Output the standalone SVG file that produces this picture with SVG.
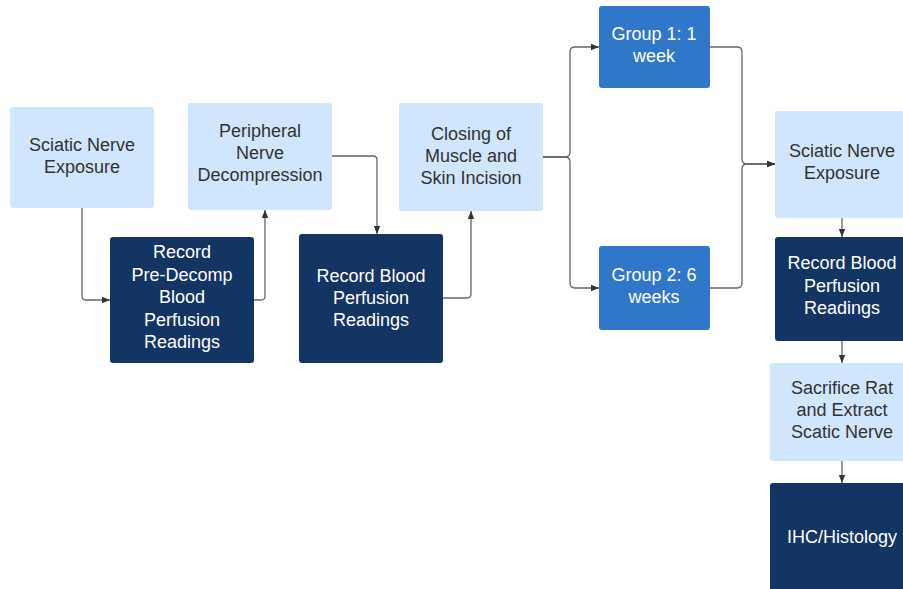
<svg xmlns="http://www.w3.org/2000/svg" width="903" height="589" viewBox="0 0 903 589">
<defs>
<marker id="ah" viewBox="0 0 10 10" refX="10" refY="5" markerWidth="8" markerHeight="8" markerUnits="userSpaceOnUse" orient="auto">
<path d="M0,1 L10,5 L0,9 Z" fill="#333"/>
</marker>
<style>
.light{fill:#d1e5fc}
.dark{fill:#133563}
.mid{fill:#3077c9}
text{font-family:"Liberation Sans",Arial,sans-serif;font-size:18px;text-anchor:middle}
.tl{fill:#333}
.tw{fill:#fff}
.c{fill:none;stroke:#666;stroke-width:1.3;marker-end:url(#ah)}
</style>
</defs>
<rect width="903" height="589" fill="#fff"/>
<g id="connectors">
<path class="c" d="M82,208 V296 Q82,300 86,300 H110"/>
<path class="c" d="M254,300 H261 Q265,300 265,296 V210"/>
<path class="c" d="M332,156 H373 Q377,156 377,160 V234"/>
<path class="c" d="M443,298 H467 Q471,298 471,294 V211"/>
<path class="c" d="M543,157 H565 Q570,157 570,152 V52 Q570,47 575,47 H599"/>
<path class="c" d="M543,157 H565 Q570,157 570,162 V283 Q570,288 575,288 H599"/>
<path class="c" d="M710,47 H737 Q742,47 742,52 V159 Q742,164 747,164 H775"/>
<path class="c" d="M710,288 H737 Q742,288 742,283 V169 Q742,164 747,164 H775"/>
<path class="c" d="M842,218 V237"/>
<path class="c" d="M842,341 V363"/>
<path class="c" d="M842,461 V483"/>
</g>
<g id="n1"><rect class="light" x="10" y="107" width="144" height="101" rx="3"/>
<text class="tl"><tspan x="82" y="151">Sciatic Nerve</tspan><tspan x="82" y="173">Exposure</tspan></text></g>
<g id="n2"><rect class="dark" x="110" y="237" width="144" height="126" rx="3"/>
<text class="tw"><tspan x="182" y="258">Record</tspan><tspan x="182" y="281">Pre-Decomp</tspan><tspan x="182" y="303">Blood</tspan><tspan x="182" y="326">Perfusion</tspan><tspan x="182" y="348">Readings</tspan></text></g>
<g id="n3"><rect class="light" x="188" y="103" width="144" height="107" rx="3"/>
<text class="tl"><tspan x="260" y="137">Peripheral</tspan><tspan x="260" y="159">Nerve</tspan><tspan x="260" y="181">Decompression</tspan></text></g>
<g id="n4"><rect class="dark" x="299" y="234" width="144" height="129" rx="3"/>
<text class="tw"><tspan x="371" y="282">Record Blood</tspan><tspan x="371" y="304">Perfusion</tspan><tspan x="371" y="326">Readings</tspan></text></g>
<g id="n5"><rect class="light" x="399" y="103" width="144" height="108" rx="3"/>
<text class="tl"><tspan x="471" y="140">Closing of</tspan><tspan x="471" y="162">Muscle and</tspan><tspan x="471" y="184">Skin Incision</tspan></text></g>
<g id="g1"><rect class="mid" x="599" y="6" width="111" height="82" rx="3"/>
<text class="tw"><tspan x="654" y="40">Group 1: 1</tspan><tspan x="654" y="62">week</tspan></text></g>
<g id="g2"><rect class="mid" x="599" y="246" width="111" height="84" rx="3"/>
<text class="tw"><tspan x="654" y="281">Group 2: 6</tspan><tspan x="654" y="303">weeks</tspan></text></g>
<g id="n6"><rect class="light" x="775" y="111" width="140" height="107" rx="3"/>
<text class="tl"><tspan x="842" y="157">Sciatic Nerve</tspan><tspan x="842" y="179">Exposure</tspan></text></g>
<g id="n7"><rect class="dark" x="775" y="237" width="140" height="104" rx="3"/>
<text class="tw"><tspan x="842" y="269">Record Blood</tspan><tspan x="842" y="292">Perfusion</tspan><tspan x="842" y="314">Readings</tspan></text></g>
<g id="n8"><rect class="light" x="770" y="363" width="145" height="98" rx="3"/>
<text class="tl"><tspan x="842" y="394">Sacrifice Rat</tspan><tspan x="842" y="416">and Extract</tspan><tspan x="842" y="438">Scatic Nerve</tspan></text></g>
<g id="n9"><rect class="dark" x="770" y="483" width="145" height="120" rx="3"/>
<text class="tw"><tspan x="842" y="543">IHC/Histology</tspan></text></g>
</svg>
